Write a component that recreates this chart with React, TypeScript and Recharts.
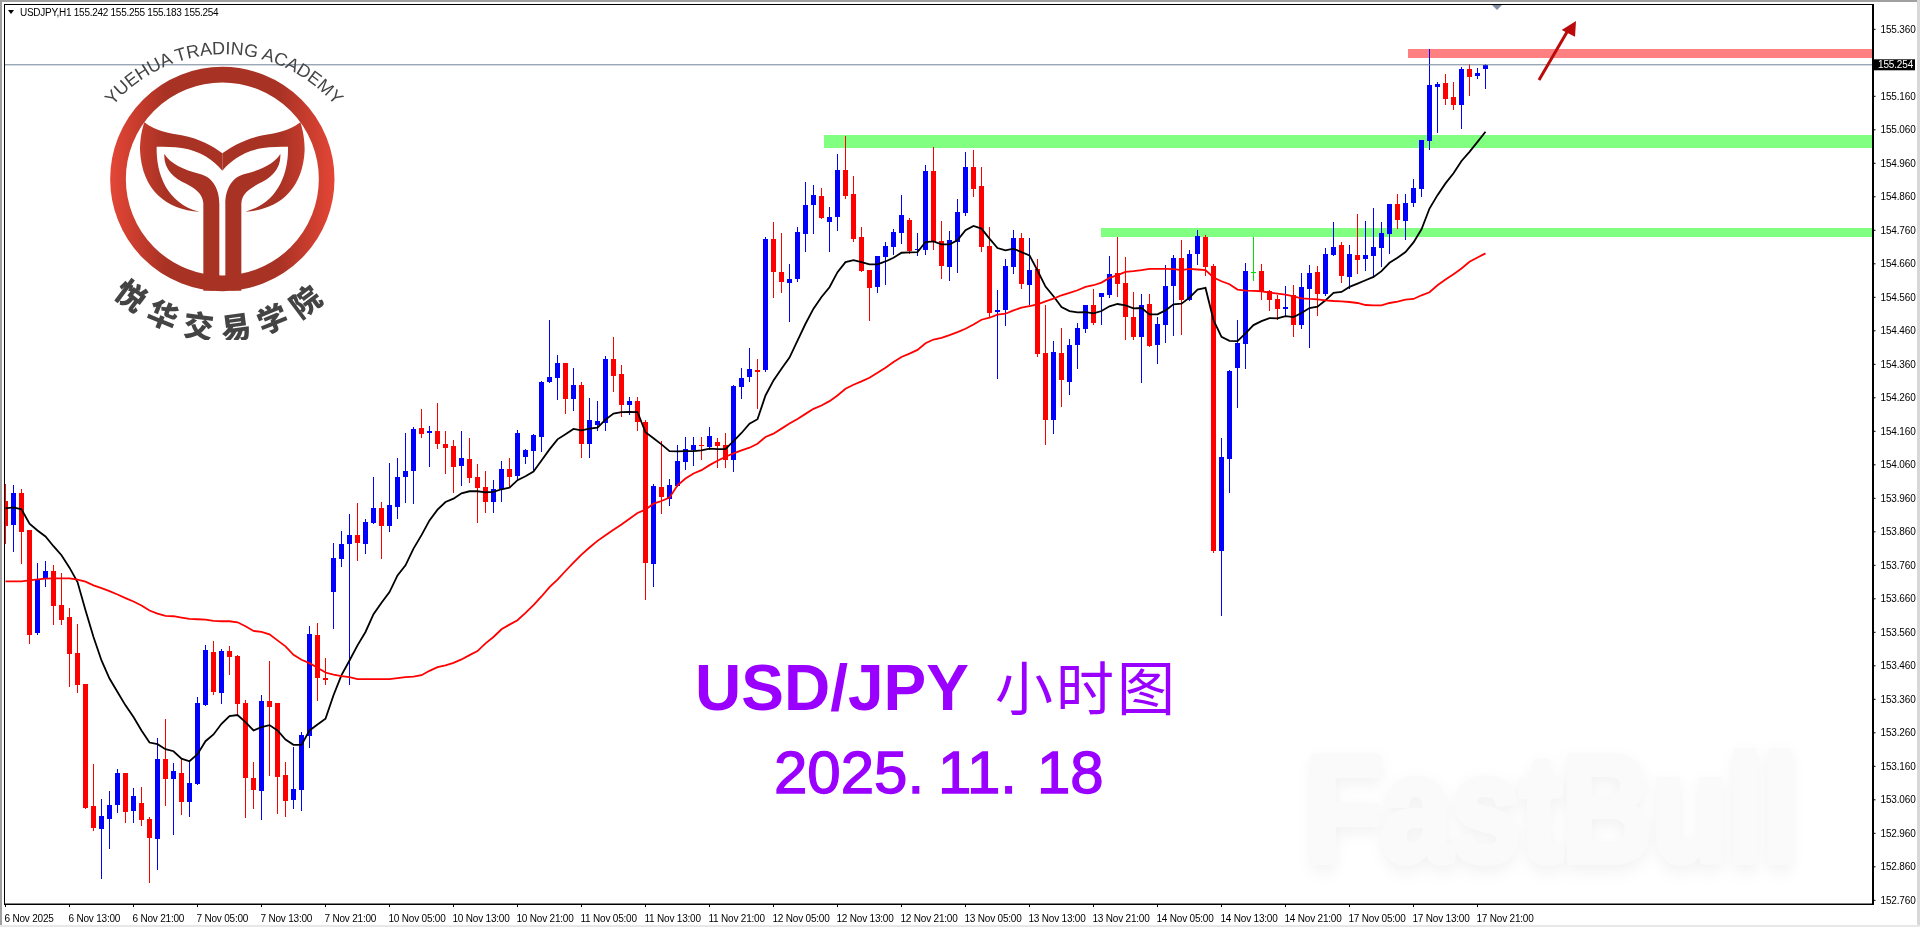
import { Bar, ComposedChart, Line, ReferenceArea, ReferenceLine, XAxis, YAxis } from "recharts";

// USDJPY H1, values
const opens = [
  153.951, 153.879, 153.975, 153.864, 153.557, 153.721, 153.742, 153.643, 153.605, 153.497,
  153.405, 153.041, 152.972, 153.005, 153.043, 153.139, 153.026, 153.049, 153.002, 152.942,
  153.181, 153.121, 153.139, 153.052, 153.106, 153.342, 153.5, 153.378, 153.503, 153.488,
  153.348, 153.124, 153.085, 153.354, 153.348, 153.133, 153.058, 153.088, 153.249, 153.551,
  153.423, 153.679, 153.778, 153.823, 153.849, 153.823, 153.885, 153.93, 153.876, 153.933,
  154.023, 154.041, 154.169, 154.154, 154.16, 154.121, 154.115, 154.055, 154.076, 154.023,
  153.993, 153.948, 153.987, 154.047, 154.026, 154.082, 154.1, 154.142, 154.306, 154.318,
  154.363, 154.255, 154.297, 154.121, 154.178, 154.184, 154.375, 154.33, 154.238, 154.25,
  154.187, 153.763, 153.993, 153.957, 153.996, 154.067, 154.103, 154.118, 154.112, 154.127,
  154.118, 154.074, 154.291, 154.321, 154.342, 154.342, 154.733, 154.637, 154.604, 154.613,
  154.751, 154.834, 154.861, 154.786, 154.798, 154.939, 154.867, 154.739, 154.64, 154.59,
  154.679, 154.709, 154.754, 154.792, 154.7, 154.7, 154.936, 154.727, 154.649, 154.727,
  154.81, 154.948, 154.891, 154.712, 154.515, 154.521, 154.649, 154.736, 154.595, 154.643,
  154.393, 154.193, 154.393, 154.309, 154.416, 154.465, 154.536, 154.56, 154.566, 154.632,
  154.602, 154.5, 154.441, 154.539, 154.417, 154.477, 154.593, 154.677, 154.551, 154.689,
  154.739, 154.653, 153.802, 154.077, 154.348, 154.42, 154.636, 154.638, 154.578, 154.554,
  154.524, 154.566, 154.477, 154.584, 154.635, 154.569, 154.686, 154.716, 154.62, 154.686,
  154.674, 154.683, 154.707, 154.749, 154.838, 154.787, 154.841, 154.883, 155.026, 155.187,
  155.199, 155.157, 155.134, 155.241, 155.22, 155.242,
];
const highs = [
  154.002, 153.999, 153.987, 153.866, 153.766, 153.772, 153.76, 153.736, 153.632, 153.584,
  153.405, 153.166, 153.061, 153.085, 153.151, 153.141, 153.094, 153.097, 153.008, 153.246,
  153.3, 153.169, 153.181, 153.178, 153.366, 153.521, 153.533, 153.509, 153.518, 153.491,
  153.357, 153.172, 153.372, 153.473, 153.349, 153.172, 153.217, 153.261, 153.578, 153.587,
  153.482, 153.826, 153.861, 153.912, 153.945, 153.897, 154.023, 153.948, 154.064, 154.079,
  154.154, 154.172, 154.226, 154.175, 154.244, 154.16, 154.133, 154.16, 154.139, 154.061,
  154.041, 154.014, 154.07, 154.079, 154.163, 154.106, 154.151, 154.309, 154.491, 154.387,
  154.364, 154.348, 154.306, 154.258, 154.25, 154.384, 154.441, 154.357, 154.261, 154.261,
  154.193, 154.002, 154.13, 154.017, 154.118, 154.142, 154.142, 154.142, 154.172, 154.139,
  154.154, 154.297, 154.348, 154.41, 154.375, 154.739, 154.784, 154.751, 154.658, 154.769,
  154.903, 154.894, 154.885, 154.831, 154.987, 155.04, 154.921, 154.769, 154.641, 154.683,
  154.724, 154.763, 154.864, 154.798, 154.751, 154.954, 155.01, 154.787, 154.757, 154.852,
  154.995, 155.001, 154.95, 154.769, 154.581, 154.673, 154.76, 154.751, 154.736, 154.673,
  154.536, 154.431, 154.467, 154.437, 154.482, 154.537, 154.584, 154.572, 154.683, 154.739,
  154.68, 154.575, 154.569, 154.569, 154.5, 154.656, 154.686, 154.73, 154.7, 154.76,
  154.745, 154.659, 154.139, 154.342, 154.492, 154.662, 154.739, 154.659, 154.581, 154.566,
  154.593, 154.596, 154.632, 154.656, 154.653, 154.706, 154.784, 154.725, 154.716, 154.808,
  154.787, 154.826, 154.784, 154.839, 154.868, 154.868, 154.913, 155.03, 155.301, 155.202,
  155.226, 155.202, 155.247, 155.256, 155.244, 155.255,
];
const lows = [
  153.823, 153.799, 153.763, 153.524, 153.551, 153.694, 153.581, 153.581, 153.396, 153.378,
  153.033, 152.966, 152.823, 152.912, 153.02, 152.99, 152.99, 152.981, 152.811, 152.849,
  153.041, 152.954, 153.014, 153.008, 153.105, 153.341, 153.372, 153.345, 153.432, 153.312,
  153.005, 153.032, 152.999, 153.13, 153.017, 153.008, 153.032, 153.026, 153.214, 153.354,
  153.402, 153.569, 153.754, 153.402, 153.772, 153.793, 153.882, 153.778, 153.858, 153.897,
  153.945, 153.942, 154.139, 154.052, 154.106, 154.032, 153.975, 153.996, 154.005, 153.885,
  153.915, 153.915, 153.948, 153.993, 154.014, 154.061, 154.041, 154.097, 154.304, 154.252,
  154.211, 154.22, 154.079, 154.079, 154.16, 154.16, 154.276, 154.202, 154.208, 154.16,
  153.655, 153.694, 153.912, 153.936, 153.993, 154.044, 154.055, 154.074, 154.103, 154.05,
  154.05, 154.038, 154.255, 154.306, 154.228, 154.336, 154.557, 154.572, 154.485, 154.607,
  154.694, 154.748, 154.793, 154.694, 154.757, 154.852, 154.724, 154.636, 154.488, 154.572,
  154.598, 154.685, 154.718, 154.688, 154.682, 154.685, 154.7, 154.616, 154.61, 154.634,
  154.804, 154.858, 154.694, 154.5, 154.315, 154.473, 154.631, 154.584, 154.536, 154.381,
  154.118, 154.151, 154.234, 154.267, 154.345, 154.453, 154.477, 154.477, 154.557, 154.56,
  154.432, 154.432, 154.303, 154.413, 154.36, 154.423, 154.444, 154.447, 154.55, 154.656,
  154.623, 153.796, 153.608, 153.975, 154.229, 154.345, 154.608, 154.551, 154.518, 154.492,
  154.503, 154.441, 154.465, 154.408, 154.503, 154.563, 154.683, 154.602, 154.584, 154.629,
  154.638, 154.617, 154.65, 154.689, 154.763, 154.731, 154.829, 154.859, 155.0, 155.05,
  155.134, 155.119, 155.062, 155.16, 155.211, 155.183,
];
const closes = [
  153.876, 153.975, 153.858, 153.551, 153.715, 153.742, 153.637, 153.599, 153.494, 153.402,
  153.035, 152.975, 153.011, 153.046, 153.139, 153.023, 153.07, 152.999, 152.945, 153.181,
  153.121, 153.145, 153.052, 153.109, 153.348, 153.506, 153.381, 153.503, 153.485, 153.345,
  153.124, 153.088, 153.354, 153.336, 153.127, 153.055, 153.091, 153.252, 153.554, 153.423,
  153.417, 153.781, 153.823, 153.849, 153.826, 153.888, 153.93, 153.876, 153.939, 154.023,
  154.041, 154.166, 154.151, 154.16, 154.121, 154.109, 154.052, 154.079, 154.02, 153.99,
  153.948, 153.987, 154.047, 154.023, 154.154, 154.103, 154.148, 154.306, 154.321, 154.363,
  154.255, 154.297, 154.121, 154.193, 154.19, 154.375, 154.324, 154.238, 154.25, 154.187,
  153.766, 153.996, 153.963, 153.999, 154.07, 154.106, 154.118, 154.115, 154.145, 154.115,
  154.074, 154.294, 154.318, 154.345, 154.336, 154.733, 154.634, 154.607, 154.616, 154.754,
  154.837, 154.864, 154.795, 154.801, 154.939, 154.861, 154.733, 154.637, 154.587, 154.682,
  154.712, 154.754, 154.807, 154.7, 154.703, 154.936, 154.724, 154.652, 154.73, 154.816,
  154.948, 154.882, 154.709, 154.512, 154.521, 154.652, 154.736, 154.598, 154.64, 154.39,
  154.193, 154.396, 154.312, 154.419, 154.467, 154.536, 154.483, 154.572, 154.629, 154.599,
  154.5, 154.441, 154.536, 154.414, 154.48, 154.593, 154.677, 154.551, 154.689, 154.742,
  154.65, 153.802, 154.083, 154.339, 154.423, 154.638, 154.636, 154.578, 154.551, 154.524,
  154.53, 154.477, 154.59, 154.632, 154.569, 154.689, 154.71, 154.623, 154.689, 154.671,
  154.686, 154.71, 154.752, 154.838, 154.79, 154.841, 154.886, 155.029, 155.193, 155.196,
  155.151, 155.134, 155.241, 155.217, 155.229, 155.254,
];
// fast moving average (black)
const maFast = [
  153.93, 153.933, 153.927, 153.884, 153.864, 153.846, 153.817, 153.79, 153.753, 153.71,
  153.626, 153.546, 153.476, 153.422, 153.382, 153.342, 153.307, 153.267, 153.231, 153.226,
  153.211, 153.205, 153.183, 153.175, 153.196, 153.235, 153.255, 153.287, 153.31, 153.313,
  153.292, 153.267, 153.277, 153.283, 153.267, 153.24, 153.224, 153.224, 153.267, 153.285,
  153.302, 153.372, 153.432, 153.476, 153.521, 153.561, 153.614, 153.648, 153.68, 153.73,
  153.76, 153.81, 153.85, 153.894, 153.926, 153.949, 153.959, 153.975, 153.981, 153.981,
  153.978, 153.979, 153.987, 153.992, 154.014, 154.026, 154.04, 154.073, 154.106, 154.136,
  154.151, 154.167, 154.163, 154.168, 154.171, 154.195, 154.213, 154.217, 154.218, 154.217,
  154.157, 154.139, 154.121, 154.101, 154.1, 154.101, 154.101, 154.103, 154.108, 154.107,
  154.107, 154.131, 154.155, 154.183, 154.196, 154.267, 154.312, 154.347, 154.38, 154.431,
  154.481, 154.526, 154.561, 154.59, 154.635, 154.665, 154.671, 154.665, 154.658, 154.658,
  154.667, 154.678, 154.693, 154.694, 154.695, 154.725, 154.727, 154.718, 154.718, 154.73,
  154.76, 154.773, 154.765, 154.735, 154.707, 154.7, 154.705, 154.695, 154.685, 154.64,
  154.592, 154.563, 154.531, 154.519, 154.515, 154.516, 154.512, 154.519, 154.533, 154.54,
  154.536, 154.527, 154.528, 154.509, 154.509, 154.521, 154.539, 154.541, 154.559, 154.583,
  154.588, 154.492, 154.442, 154.43, 154.429, 154.452, 154.477, 154.489, 154.498, 154.497,
  154.504, 154.501, 154.513, 154.528, 154.532, 154.551, 154.573, 154.576, 154.591, 154.601,
  154.611, 154.621, 154.638, 154.663, 154.678, 154.695, 154.724, 154.763, 154.825, 154.865,
  154.9, 154.93, 154.967, 154.994, 155.024, 155.054,
];
// slow moving average (red)
const maSlow = [
  153.712, 153.712, 153.712, 153.715, 153.718, 153.72, 153.721, 153.721, 153.721, 153.717,
  153.711, 153.7, 153.692, 153.683, 153.673, 153.662, 153.652, 153.64, 153.625, 153.616,
  153.609, 153.608, 153.604, 153.6, 153.599, 153.598, 153.594, 153.593, 153.593, 153.59,
  153.578, 153.564, 153.561, 153.554, 153.536, 153.518, 153.493, 153.478, 153.468, 153.454,
  153.44, 153.434, 153.429, 153.426, 153.42, 153.42, 153.42, 153.42, 153.42, 153.423,
  153.426, 153.428, 153.432, 153.445, 153.456, 153.461, 153.469, 153.479, 153.492, 153.504,
  153.527, 153.546, 153.569, 153.583, 153.596, 153.618, 153.641, 153.667, 153.695, 153.717,
  153.743, 153.768, 153.792, 153.813, 153.833, 153.85, 153.866, 153.882, 153.899, 153.916,
  153.926, 153.944, 153.952, 153.962, 153.999, 154.019, 154.034, 154.044, 154.059, 154.072,
  154.084, 154.094, 154.103, 154.111, 154.123, 154.143, 154.153, 154.168, 154.183, 154.197,
  154.212, 154.227, 154.237, 154.25, 154.267, 154.287, 154.299, 154.309, 154.32, 154.335,
  154.35, 154.367, 154.382, 154.392, 154.403, 154.423, 154.434, 154.439, 154.447, 154.456,
  154.466, 154.479, 154.493, 154.499, 154.508, 154.511, 154.521, 154.529, 154.534, 154.539,
  154.548, 154.556, 154.566, 154.573, 154.581, 154.591, 154.596, 154.604, 154.618, 154.626,
  154.636, 154.638, 154.641, 154.645, 154.645, 154.645, 154.644, 154.641, 154.645, 154.643,
  154.641, 154.619, 154.608, 154.599, 154.583, 154.58, 154.579, 154.578, 154.574, 154.571,
  154.568, 154.563, 154.557, 154.555, 154.554, 154.551, 154.549, 154.548, 154.546, 154.543,
  154.537, 154.536, 154.536, 154.543, 154.547, 154.553, 154.555, 154.566, 154.575, 154.596,
  154.613, 154.629, 154.646, 154.666, 154.679, 154.691,
];

const timeLabels = [
  "6 Nov 2025", "6 Nov 13:00", "6 Nov 21:00", "7 Nov 05:00", "7 Nov 13:00", "7 Nov 21:00",
  "10 Nov 05:00", "10 Nov 13:00", "10 Nov 21:00", "11 Nov 05:00", "11 Nov 13:00", "11 Nov 21:00",
  "12 Nov 05:00", "12 Nov 13:00", "12 Nov 21:00", "13 Nov 05:00", "13 Nov 13:00", "13 Nov 21:00",
  "14 Nov 05:00", "14 Nov 13:00", "14 Nov 21:00", "17 Nov 05:00", "17 Nov 13:00", "17 Nov 21:00",
];
const timeTicks = [
  0, 8, 16, 24, 32, 40, 48, 56, 64, 72, 80, 88, 96, 104, 112, 120, 128, 136, 144, 152, 160, 168, 176, 184,
];
// 155.26 sits under the price tag, so the axis does not print it
const priceTicks = [
  152.76, 152.86, 152.96, 153.06, 153.16, 153.26, 153.36, 153.46, 153.56, 153.66, 153.76, 153.86, 153.96,
  154.06, 154.16, 154.26, 154.36, 154.46, 154.56, 154.66, 154.76, 154.86, 154.96, 155.06, 155.16, 155.36,
];

// drawn zones: [first bar, price low, price high]
const supportHigh = [102.3, 155.007, 155.043];
const supportLow = [136.9, 154.74, 154.766];
const resistance = [175.35, 155.274, 155.301];

const X_MIN = -0.125;
const X_MAX = 233.375;
const PRICE_MIN = 152.749;
const PRICE_MAX = 155.434;
const UI_FONT = "'Liberation Sans', Arial, sans-serif";

const rows = opens.map((open, index) => ({
  index,
  open,
  high: highs[index],
  low: lows[index],
  close: closes[index],
  fast: maFast[index],
  slow: maSlow[index],
}));

function Candle(props: any) {
  const { x, y, width, height, payload } = props;
  const { open, high, low, close } = payload;
  const perUnit = height / (high - low);
  const cx = Math.floor(x + width / 2);
  const top = y + (high - Math.max(open, close)) * perUnit;
  const bottom = y + (high - Math.min(open, close)) * perUnit;
  const color = close > open ? "#0000ff" : close < open ? "#ff0000" : "#00e000";
  return (
    <g shapeRendering="crispEdges" fill={color}>
      <rect x={cx} y={y} width={1} height={height} />
      <rect x={cx - 2} y={Math.round(top)} width={5} height={Math.max(1, Math.round(bottom - top))} />
    </g>
  );
}

function TimeTick(props: any) {
  const { x, y, payload } = props;
  return (
    <text x={x - 1} y={y + 13} fontSize={10} letterSpacing={-0.2} fontFamily={UI_FONT} fill="#000">
      {timeLabels[timeTicks.indexOf(payload.value)]}
    </text>
  );
}

function PriceTick(props: any) {
  const { x, y, payload } = props;
  return (
    <text x={x + 3} y={y + 3.5} fontSize={10} letterSpacing={-0.15} fontFamily={UI_FONT} fill="#000">
      {payload.value.toFixed(3)}
    </text>
  );
}

function Zone(props: any) {
  const { x, y, width, height, fill } = props;
  return (
    <rect
      x={x}
      y={y}
      width={width}
      height={height}
      fill={fill}
      shapeRendering="crispEdges"
      style={{ mixBlendMode: "multiply" }}
    />
  );
}

function PriceTag(props: any) {
  const y = props.viewBox.y;
  return (
    <g>
      <rect x={1874} y={y - 5.5} width={41} height={11} fill="#000" />
      <text x={1878} y={y + 3.5} fontSize={10} letterSpacing={-0.15} fontFamily={UI_FONT} fill="#fff">
        {closes[closes.length - 1].toFixed(3)}
      </text>
    </g>
  );
}

function Logo() {
  const wing =
    "M433 367 C470 395 510 400 545 406 C600 416 640 440 667 460 L667 512 C640 480 600 452 545 444 C520 440 495 440 470 440 C468 520 500 610 598 635 C500 630 425 570 420 450 C420 420 425 390 433 367 Z";
  const leaf =
    "M493 462 C510 490 550 510 600 522 C640 532 658 570 658 612 L658 850 L640 872 L610 872 L610 610 C608 580 585 566 560 552 C520 535 490 505 493 462 Z";
  return (
    <svg
      viewBox="0 0 1140 1020"
      width={380}
      height={340}
      style={{ position: "absolute", left: 0, top: 0, pointerEvents: "none" }}
    >
      <defs>
        <linearGradient id="logoRed" gradientUnits="userSpaceOnUse" x1={330} y1={0} x2={1004} y2={0}>
          <stop offset="0" stopColor="#e44636" />
          <stop offset="0.25" stopColor="#a83224" />
          <stop offset="0.75" stopColor="#a83224" />
          <stop offset="1" stopColor="#e44636" />
        </linearGradient>
        <path id="logoTop" d="M251 480 A438 438 0 0 1 1093 480" />
        <path id="logoBottom" d="M200 600 A470 470 0 0 0 1134 600" />
      </defs>
      <circle cx={667} cy={537} r={313} fill="none" stroke="url(#logoRed)" strokeWidth={47} />
      <g fill="url(#logoRed)">
        <path d={wing} />
        <path d={wing} transform="translate(1334 0) scale(-1 1)" />
        <path d={leaf} />
        <path d={leaf} transform="translate(1334 0) scale(-1 1)" />
      </g>
      <text fontFamily={UI_FONT} fontSize={54} fill="#444">
        <textPath href="#logoTop" startOffset="50%" textAnchor="middle">
          YUEHUA TRADING ACADEMY
        </textPath>
      </text>
      <text fontFamily="'Noto Sans CJK SC'" fontWeight={900} fontSize={90} fill="#444" letterSpacing={31}>
        <textPath href="#logoBottom" startOffset="50%" textAnchor="middle">
          悦华交易学院
        </textPath>
      </text>
    </svg>
  );
}

function Notes() {
  return (
    <svg width={1920} height={927} style={{ position: "absolute", left: 0, top: 0, pointerEvents: "none" }}>
      <polygon points="8,10 14,10 11,14" fill="#000" />
      <text x={20} y={16} fontSize={10} letterSpacing={-0.27} fontFamily={UI_FONT} fill="#000">
        USDJPY,H1 155.242 155.255 155.183 155.254
      </text>
      <polygon points="1492,5 1502,5 1497,10" fill="#7f8fa0" />
      <line x1={1539} y1={80} x2={1567} y2={32} stroke="#bb0a0a" strokeWidth={3} />
      <polygon points="1576,21 1561.7,30 1575,36.7" fill="#bb0a0a" />
      <text x={695} y={710} fontSize={64} textLength={274} fontWeight={700} fontFamily={UI_FONT} fill="#9900ff">
        USD/JPY
      </text>
      <text y={793} fontSize={60} fontFamily={UI_FONT} fill="#9900ff" stroke="#9900ff" strokeWidth={1.3}>
        <tspan x={774}>2025.</tspan>
        <tspan x={938}>11.</tspan>
        <tspan x={1037}>18</tspan>
      </text>
      <text x={995} y={710} fontSize={58} letterSpacing={3} fontFamily="'Noto Sans CJK SC'" fill="#9900ff">
        小时图
      </text>
    </svg>
  );
}

function Watermark() {
  return (
    <svg width={1920} height={927} style={{ position: "absolute", left: 0, top: 0 }}>
      <text
        transform="translate(1306 861) scale(0.83 1)"
        fontSize={150}
        fontWeight={700}
        fontFamily={UI_FONT}
        fill="#fafafa"
        stroke="#fafafa"
        strokeWidth={8}
        strokeLinejoin="round"
        style={{ filter: "drop-shadow(0 6px 8px rgba(0,0,0,0.05))" }}
      >
        FastBull
      </text>
    </svg>
  );
}

export default function App() {
  return (
    <div style={{ position: "absolute", left: 0, top: 0, width: 1920, height: 927, background: "#fff", overflow: "hidden" }}>
      <Watermark />
      <div style={{ position: "absolute", left: 0, top: 0 }}>
        <ComposedChart
          width={1920}
          height={927}
          data={rows}
          margin={{ top: 4.5, right: 0, bottom: 0, left: 4.5 }}
          barCategoryGap={0}
        >
          <XAxis
            type="number"
            dataKey="index"
            scale="linear"
            domain={[X_MIN, X_MAX]}
            allowDataOverflow
            ticks={timeTicks}
            interval={0}
            height={23}
            tick={<TimeTick />}
            tickSize={3}
            tickLine={{ stroke: "#000" }}
            axisLine={{ stroke: "#000" }}
          />
          <YAxis
            type="number"
            orientation="right"
            scale="linear"
            domain={[PRICE_MIN, PRICE_MAX]}
            allowDataOverflow
            ticks={priceTicks}
            interval={0}
            width={47.5}
            tick={<PriceTick />}
            tickSize={3}
            tickLine={{ stroke: "#000" }}
            axisLine={{ stroke: "#000" }}
          />
          <ReferenceLine y={closes[closes.length - 1]} stroke="#6f8296" strokeWidth={1} label={<PriceTag />} />
          <Bar
            dataKey={(d: any) => [d.low, d.high]}
            barSize={5}
            shape={<Candle />}
            isAnimationActive={false}
          />
          <Line dataKey="fast" stroke="#000" strokeWidth={1.8} dot={false} isAnimationActive={false} />
          <Line dataKey="slow" stroke="#ff0000" strokeWidth={1.8} dot={false} isAnimationActive={false} />
          <ReferenceArea x1={supportHigh[0]} x2={X_MAX} y1={supportHigh[1]} y2={supportHigh[2]} fill="#80ff80" shape={<Zone />} />
          <ReferenceArea x1={supportLow[0]} x2={X_MAX} y1={supportLow[1]} y2={supportLow[2]} fill="#80ff80" shape={<Zone />} />
          <ReferenceArea x1={resistance[0]} x2={X_MAX} y1={resistance[1]} y2={resistance[2]} fill="#ff8080" shape={<Zone />} />
        </ComposedChart>
      </div>
      <div style={{ position: "absolute", left: 4, top: 4, width: 1868, height: 899, border: "1px solid #000", pointerEvents: "none" }} />
      <Logo />
      <Notes />
      <div style={{ position: "absolute", left: 0, top: 0, width: 1920, height: 1.5, background: "#a0a0a0" }} />
      <div style={{ position: "absolute", left: 0, top: 0, width: 1.5, height: 927, background: "#a0a0a0" }} />
      <div style={{ position: "absolute", left: 1917, top: 0, width: 3, height: 927, background: "#d8d8d8" }} />
      <div style={{ position: "absolute", left: 0, top: 925, width: 1920, height: 2, background: "#e8e8e8" }} />
    </div>
  );
}
